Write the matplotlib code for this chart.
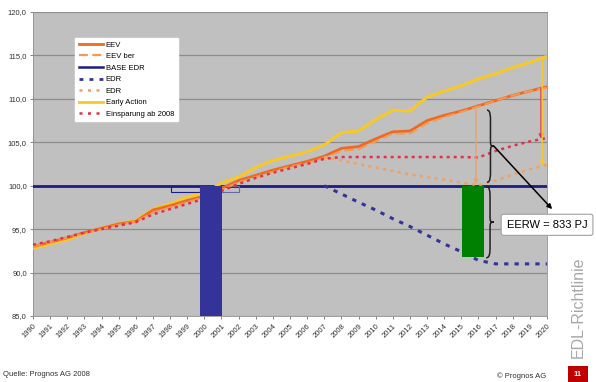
import numpy as np
import matplotlib
matplotlib.use("Agg")
import matplotlib.pyplot as plt
from matplotlib.path import Path
from matplotlib.patches import PathPatch, Rectangle
from matplotlib.lines import Line2D

plt.rcParams['font.family'] = ['Liberation Sans', 'DejaVu Sans']

# ---- data -------------------------------------------------------------
years = list(range(1990, 2021))
tick_labels = [str(y) for y in years]
y_ticks = [85, 90, 95, 100, 105, 110, 115, 120]

eev = [93.0, 93.5, 94.0, 94.6, 95.1, 95.6, 95.9, 97.2, 97.7, 98.3, 98.8,
       99.7, 100.6, 101.2, 101.8, 102.3, 102.8, 103.4, 104.3, 104.5, 105.4,
       106.2, 106.3, 107.5, 108.1, 108.6, 109.2, 109.8, 110.4, 110.9, 111.4]
eev_ber = [93.0, 93.5, 94.0, 94.5, 95.0, 95.5, 95.9, 96.9, 97.5, 98.1, 98.7,
           99.5, 100.4, 101.0, 101.6, 102.2, 102.6, 103.2, 104.0, 104.2, 105.1,
           106.0, 106.0, 107.2, 107.9, 108.5, 109.1, 109.8, 110.4, 110.9, 111.3]
early_action = [92.8, 93.3, 93.8, 94.5, 95.1, 95.6, 96.0, 97.3, 97.9, 98.7, 99.1,
                100.3, 101.0, 102.1, 102.9, 103.4, 103.9, 104.7, 106.1, 106.3, 107.6,
                108.7, 108.6, 110.2, 110.9, 111.5, 112.3, 112.9, 113.6, 114.2, 114.9]
einsparung = [93.2, 93.6, 94.1, 94.6, 95.0, 95.4, 95.8, 96.7, 97.3, 97.9, 98.5,
              99.4, 100.2, 100.9, 101.5, 102.0, 102.5, 103.1, 103.3, 103.3, 103.3,
              103.3, 103.3, 103.3, 103.3, 103.3, 103.25, 104.0, 104.6, 105.1, 105.5]
base_edr = [100.0] * len(years)

edr_years = list(range(2007, 2021))
edr_blue = [100.0, 99.05, 98.1, 97.2, 96.2, 95.3, 94.3, 93.3, 92.4, 91.4,
            91.0, 91.0, 91.0, 91.0]
edr_orange = [103.3, 102.9, 102.5, 102.1, 101.7, 101.3, 101.0, 100.7, 100.35,
              100.05, 100.6, 101.3, 101.9, 102.4]

base_bar = (85.0, 100.0)      # bottom, top of the base-year bar
eerw_bar = (91.8, 100.0)      # bottom, top of the EERW bar
eerw_label = "EERW = 833 PJ"

# ---- colours ----------------------------------------------------------
C_EEV = '#EE6A22'
C_EEVB = '#F39A55'
C_NAVY = '#1C1C86'
C_BLUE = '#33339A'
C_ORDOT = '#F2A060'
C_YEL = '#F7C928'
C_RED = '#E0304A'
C_GREEN = '#008000'

fig = plt.figure(figsize=(5.96, 3.82), dpi=100)
ax = fig.add_axes([0.0554, 0.1728, 0.8624, 0.7958])
ax.set_facecolor('#C0C0C0')
ax.set_xlim(1990, 2020)
ax.set_ylim(85, 120)

for v in y_ticks:
    ax.axhline(v, color='#8C8C8C', lw=0.9, zorder=1)

# main series
ax.plot(years, base_edr, color=C_NAVY, lw=2.0, zorder=3)
ax.plot(years, early_action, color=C_YEL, lw=2.2, zorder=4, solid_capstyle='butt')
ax.plot(years, eev, color=C_EEV, lw=2.0, zorder=5, solid_capstyle='butt')
ax.plot(years, eev_ber, color=C_EEVB, lw=1.4, zorder=5, dashes=(5, 2))
ax.plot(years, einsparung, color=C_RED, lw=1.8, zorder=6, dashes=(1.2, 1.6),
        dash_capstyle='butt')
ax.plot(edr_years, edr_orange, color=C_ORDOT, lw=1.8, zorder=6, dashes=(1.2, 1.8),
        dash_capstyle='butt')
ax.plot(edr_years, edr_blue, color=C_BLUE, lw=2.2, zorder=6, dashes=(1.4, 2.0),
        dash_capstyle='butt')

# bars
ax.bar(1999.75, base_bar[1] - base_bar[0], bottom=base_bar[0], width=1.28,
       align='edge', color=C_BLUE, zorder=7)
ax.bar(2015.03, eerw_bar[1] - eerw_bar[0], bottom=eerw_bar[0], width=1.3,
       align='edge', color=C_GREEN, zorder=7)

# small outline steps beside the base-year bar
ax.add_patch(Rectangle((1998.05, 99.25), 1.7, 0.75, fill=False, ec=C_NAVY, lw=0.8, zorder=3))
ax.add_patch(Rectangle((2001.0, 99.3), 1.0, 0.7, fill=False, ec='#6A6AA0', lw=0.8, zorder=3))

# vertical arrows
def varrow(x, y0, y1, color):
    ax.annotate('', xy=(x, y1), xytext=(x, y0),
                arrowprops=dict(arrowstyle='-|>', color=color, lw=1.0,
                                mutation_scale=6, shrinkA=0, shrinkB=0), zorder=8)

varrow(2015.85, 109.1, 100.15, C_ORDOT)
varrow(2019.65, 111.2, 105.4, C_RED)
varrow(2019.72, 114.8, 102.3, C_YEL)

# curly braces
def brace(x, y0, y1, w):
    ym = (y0 + y1) / 2.0
    h = abs(y1 - y0)
    q = h * 0.08
    verts = [(x, y1),
             (x + w * 0.5, y1), (x + w * 0.5, y1 - q), (x + w * 0.5, y1 - 2 * q),
             (x + w * 0.5, ym + q),
             (x + w * 0.5, ym), (x + w * 0.6, ym), (x + w, ym),
             (x + w * 0.6, ym), (x + w * 0.5, ym), (x + w * 0.5, ym - q),
             (x + w * 0.5, y0 + 2 * q),
             (x + w * 0.5, y0 + q), (x + w * 0.5, y0), (x, y0)]
    codes = [Path.MOVETO,
             Path.CURVE4, Path.CURVE4, Path.CURVE4,
             Path.LINETO,
             Path.CURVE4, Path.CURVE4, Path.CURVE4,
             Path.CURVE4, Path.CURVE4, Path.CURVE4,
             Path.LINETO,
             Path.CURVE4, Path.CURVE4, Path.CURVE4]
    ax.add_patch(PathPatch(Path(verts, codes), fill=False, ec='#202020', lw=1.1,
                           zorder=9, clip_on=False))

brace(2016.5, 100.4, 108.7, 0.4)
brace(2016.45, 91.7, 99.9, 0.45)

ax.annotate('', xy=(2020.3, 97.3), xytext=(2016.9, 104.55),
            arrowprops=dict(arrowstyle='-|>', color='black', lw=1.1,
                            mutation_scale=7, shrinkA=0, shrinkB=0),
            annotation_clip=False, zorder=10)

ax.text(2017.65, 95.5, eerw_label, fontsize=8, ha='left', va='center', zorder=11,
        bbox=dict(boxstyle='round,pad=0.5,rounding_size=0.2', fc='white',
                  ec='#A0A0A0', lw=0.8), clip_on=False)

# axes styling
ax.set_xticks(years)
ax.set_xticklabels(tick_labels, rotation=45, ha='right', va='top', fontsize=5.5,
                   color='#303030', rotation_mode='anchor')
ax.set_yticks(y_ticks)
ax.set_yticklabels([f"{v:.1f}".replace('.', ',') for v in y_ticks], fontsize=5.5,
                   color='#303030')
ax.tick_params(axis='x', length=2.5, width=0.6, color='#707070', pad=2.5)
ax.tick_params(axis='y', length=2.5, width=0.6, color='#707070', pad=2)
for s in ax.spines.values():
    s.set_color('#909090')
    s.set_linewidth(0.6)

# legend
handles = [
    Line2D([], [], color=C_EEV, lw=2.0),
    Line2D([], [], color=C_EEVB, lw=1.6, dashes=(4, 2)),
    Line2D([], [], color=C_NAVY, lw=1.8),
    Line2D([], [], color=C_BLUE, lw=2.0, dashes=(1.4, 2.2)),
    Line2D([], [], color=C_ORDOT, lw=1.8, dashes=(1.2, 2.2)),
    Line2D([], [], color=C_YEL, lw=2.0),
    Line2D([], [], color=C_RED, lw=1.8, dashes=(1.2, 2.2)),
]
labels = ['EEV', 'EEV ber', 'BASE EDR', 'EDR', 'EDR', 'Early Action',
          'Einsparung ab 2008']
leg = ax.legend(handles, labels, loc='upper left', bbox_to_anchor=(0.082, 0.915),
                fontsize=5.5, frameon=True, fancybox=False, handlelength=3.2,
                handletextpad=0.35, labelspacing=0.55, borderpad=0.45,
                borderaxespad=0, framealpha=1.0)
leg.get_frame().set_facecolor('white')
leg.get_frame().set_edgecolor('white')
leg.set_zorder(12)

# page furniture
fig.text(3 / 596, 1 - 375 / 382, "Quelle: Prognos AG 2008", fontsize=5.5,
         ha='left', va='center', color='#303030')
fig.text(546 / 596, 1 - 376 / 382, "\u00a9 Prognos AG", fontsize=5.5,
         ha='right', va='center', color='#303030')
fig.text(578 / 596, 1 - 307 / 382, "EDL-Richtlinie", fontsize=11.5, rotation=90,
         ha='center', va='center', color='#A8A8A8')
fig.patches.append(Rectangle((568 / 596, 0), 20 / 596, 16 / 382,
                             transform=fig.transFigure, fc='#C00000', ec='none'))
fig.text(578 / 596, 8 / 382, "11", fontsize=5.5, ha='center', va='center',
         color='white', fontweight='bold')

fig.savefig('out.png', dpi=100)
